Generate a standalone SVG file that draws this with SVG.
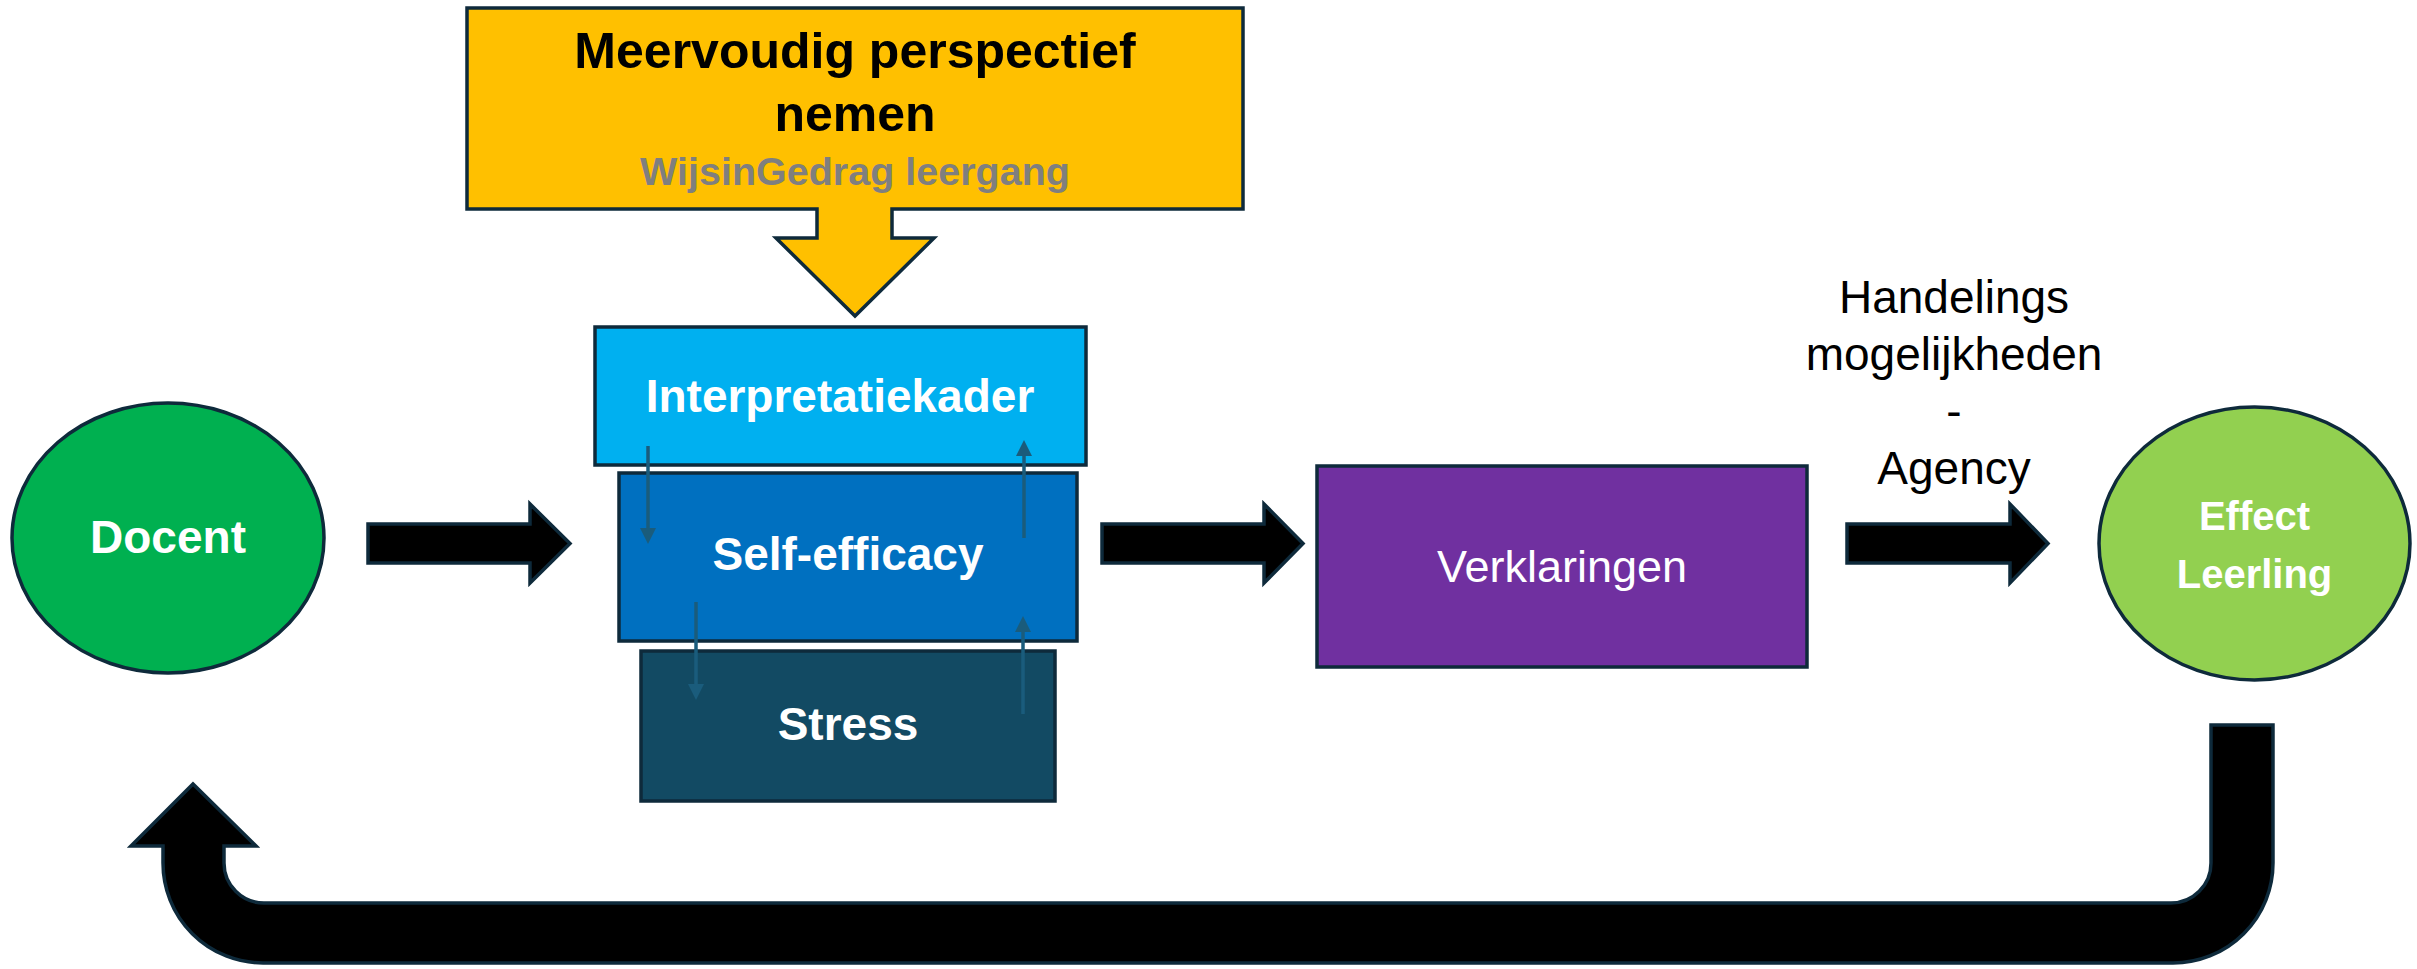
<svg xmlns="http://www.w3.org/2000/svg" width="2417" height="969" viewBox="0 0 2417 969">
  <style>
    .edge { stroke: #0e2a3b; stroke-width: 3.5; stroke-linejoin: miter; }
    .big { fill: #000000; stroke: #0e2a3b; stroke-width: 3.5; }
    .small { stroke: #1a5c7c; stroke-width: 3.5; fill: none; }
    .wb { font-family: "Liberation Sans", Arial, sans-serif; font-weight: bold; fill: #ffffff; text-anchor: middle; }
    .wr { font-family: "Liberation Sans", Arial, sans-serif; fill: #ffffff; text-anchor: middle; }
    .lbl { font-family: "Liberation Sans", Arial, sans-serif; fill: #000000; text-anchor: middle; font-size: 46px; }
  </style>
  <defs>
    <marker id="head" viewBox="0 0 10 10" refX="0" refY="5" markerUnits="userSpaceOnUse" markerWidth="16" markerHeight="16" orient="auto">
      <path d="M0,0 L10,5 L0,10 Z" fill="#1a5c7c"/>
    </marker>
  </defs>
  <rect width="2417" height="969" fill="#ffffff"/>

  <g id="perspectief">
    <path class="edge" fill="#ffc000" d="M467,8 H1243 V209 H892 V238 H934 L855,316 L776,238 H817 V209 H467 Z"/>
    <text x="855" y="68" font-family="Liberation Sans, Arial, sans-serif" font-weight="bold" font-size="50" text-anchor="middle" fill="#000000">Meervoudig perspectief</text>
    <text x="855" y="131" font-family="Liberation Sans, Arial, sans-serif" font-weight="bold" font-size="50" text-anchor="middle" fill="#000000">nemen</text>
    <text x="855" y="185" font-family="Liberation Sans, Arial, sans-serif" font-weight="bold" font-size="39.5" text-anchor="middle" fill="#7f7f7f">WijsinGedrag leergang</text>
  </g>

  <g id="interpretatiekader">
    <rect class="edge" x="595" y="327" width="491" height="138" fill="#00b0f0"/>
    <text class="wb" x="840" y="412" font-size="46">Interpretatiekader</text>
  </g>

  <g id="self-efficacy">
    <rect class="edge" x="619" y="473" width="458" height="168" fill="#0070c0"/>
    <text class="wb" x="848" y="570" font-size="46">Self-efficacy</text>
  </g>

  <g id="stress">
    <rect class="edge" x="641" y="651" width="414" height="150" fill="#124a63"/>
    <text class="wb" x="848" y="740" font-size="46">Stress</text>
  </g>

  <g id="docent">
    <ellipse class="edge" cx="168" cy="538" rx="156" ry="135" fill="#00b050"/>
    <text class="wb" x="168" y="553" font-size="46">Docent</text>
  </g>

  <g id="verklaringen">
    <rect class="edge" x="1317" y="466" width="490" height="201" fill="#7030a0"/>
    <text class="wr" x="1562" y="582" font-size="45">Verklaringen</text>
  </g>

  <g id="effect-leerling">
    <ellipse class="edge" cx="2254.5" cy="543.5" rx="155.5" ry="136.5" fill="#92d050"/>
    <text class="wb" x="2254.5" y="530" font-size="40">Effect</text>
    <text class="wb" x="2254.5" y="588" font-size="40">Leerling</text>
  </g>

  <g id="label-handelings">
    <text class="lbl" x="1954" y="313">Handelings</text>
    <text class="lbl" x="1954" y="370">mogelijkheden</text>
    <text class="lbl" x="1954" y="427">-</text>
    <text class="lbl" x="1954" y="484">Agency</text>
  </g>

  <g id="connectors">
    <path class="big" d="M368,524 H530 V504 L570,543.5 L530,583 V563 H368 Z"/>
    <path class="big" d="M1102,524 H1264 V504 L1303,543.5 L1264,583 V563 H1102 Z"/>
    <path class="big" d="M1847,524 H2010 V504 L2048,543.5 L2010,583 V563 H1847 Z"/>
    <path class="big" d="M2211,725 H2273 V863 A100,100 0 0 1 2173,963 H263 A100,100 0 0 1 163,863 V846 H131 L193,784 L256,846 H224 V863 A40,40 0 0 0 264,903 H2171 A40,40 0 0 0 2211,863 Z"/>
    <line class="small" x1="648" y1="446" x2="648" y2="528" marker-end="url(#head)"/>
    <line class="small" x1="696" y1="602" x2="696" y2="684" marker-end="url(#head)"/>
    <line class="small" x1="1024" y1="538" x2="1024" y2="456" marker-end="url(#head)"/>
    <line class="small" x1="1023" y1="714" x2="1023" y2="632" marker-end="url(#head)"/>
  </g>
</svg>
